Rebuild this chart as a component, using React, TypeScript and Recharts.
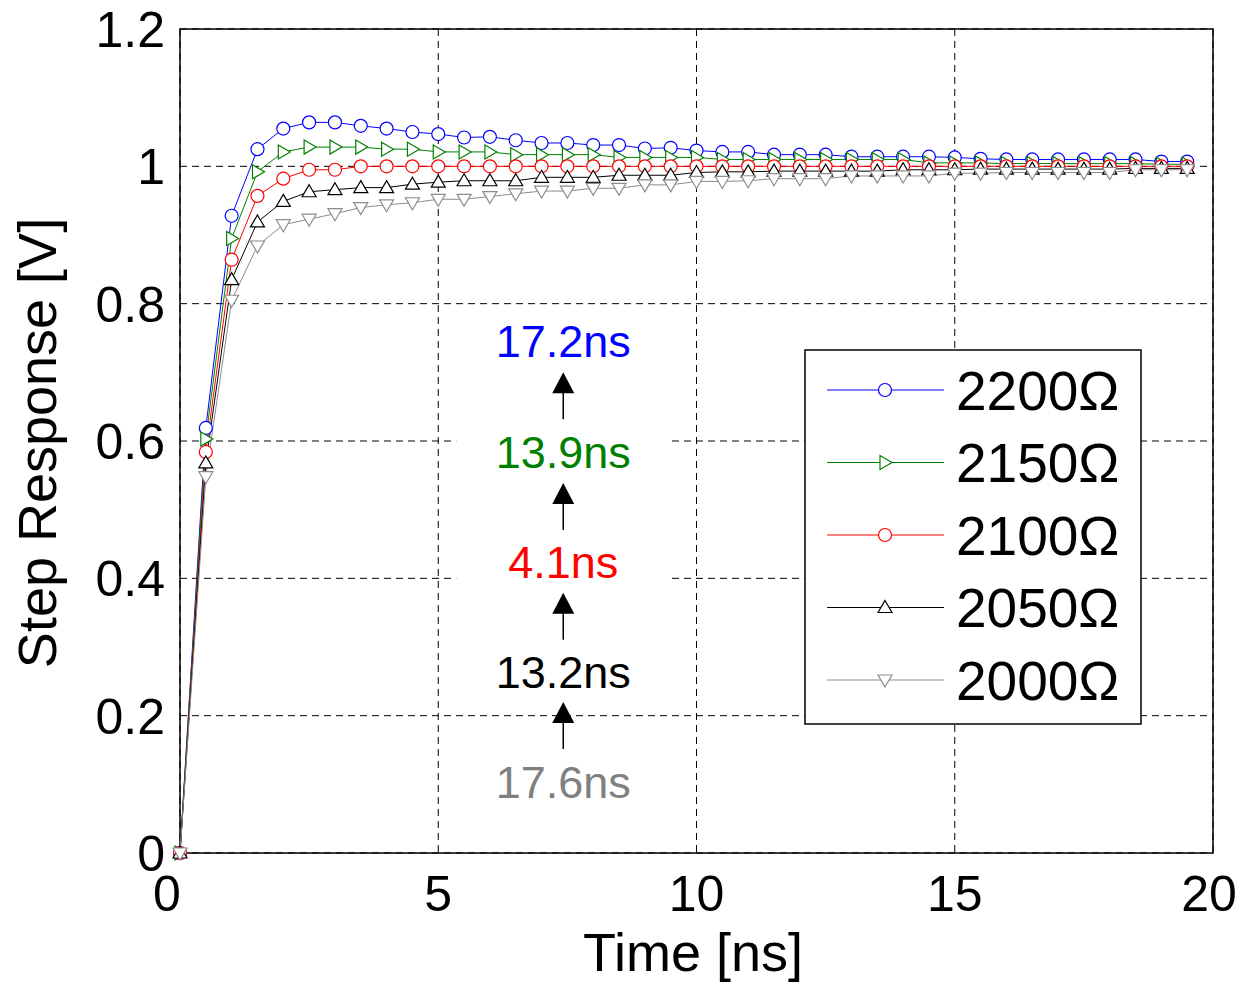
import {
  LineChart,
  Line,
  XAxis,
  YAxis,
  CartesianGrid,
  ReferenceArea,
  ReferenceDot,
  Legend,
} from 'recharts';

const FONT = '"Liberation Sans", Arial, sans-serif';

const timeNs = [
  0, 0.5, 1, 1.5, 2, 2.5, 3, 3.5, 4, 4.5, 5, 5.5, 6, 6.5, 7, 7.5, 8, 8.5, 9, 9.5,
  10, 10.5, 11, 11.5, 12, 12.5, 13, 13.5, 14, 14.5, 15, 15.5, 16, 16.5, 17, 17.5, 18, 18.5, 19, 19.5,
];

const r2200 = [
  0, 0.619, 0.928, 1.025, 1.055, 1.064, 1.064, 1.059, 1.055, 1.05, 1.047, 1.042, 1.043, 1.038, 1.034, 1.034, 1.031, 1.031, 1.026, 1.027,
  1.023, 1.021, 1.021, 1.017, 1.017, 1.017, 1.014, 1.014, 1.014, 1.014, 1.013, 1.011, 1.01, 1.01, 1.01, 1.01, 1.01, 1.01, 1.007, 1.007,
];
const r2150 = [
  0, 0.603, 0.895, 0.992, 1.021, 1.028, 1.028, 1.028, 1.025, 1.025, 1.021, 1.021, 1.021, 1.017, 1.017, 1.017, 1.017, 1.013, 1.013, 1.013,
  1.013, 1.01, 1.01, 1.01, 1.01, 1.01, 1.01, 1.01, 1.01, 1.005, 1.005, 1.005, 1.004, 1.004, 1.004, 1.004, 1.004, 1.004, 1.003, 1.003,
];
const r2100 = [
  0, 0.584, 0.864, 0.957, 0.982, 0.995, 0.995, 1.0, 1.0, 1.0, 1.0, 1.0, 1.0, 1.0, 1.0, 1.0, 1.0, 1.0, 1.0, 1.0,
  1.0, 1.0, 1.0, 1.0, 1.0, 1.0, 1.0, 1.0, 1.0, 1.0, 1.0, 1.0, 1.0, 1.0, 1.0, 1.0, 1.0, 1.0, 1.0, 1.0,
];
const r2050 = [
  0, 0.568, 0.835, 0.919, 0.949, 0.963, 0.966, 0.969, 0.969, 0.974, 0.977, 0.979, 0.979, 0.979, 0.984, 0.984, 0.984, 0.987, 0.987, 0.987,
  0.991, 0.992, 0.992, 0.993, 0.993, 0.993, 0.993, 0.993, 0.995, 0.995, 0.995, 0.996, 0.996, 0.996, 0.996, 0.996, 0.996, 0.997, 0.997, 0.997,
];
const r2000 = [
  0, 0.548, 0.805, 0.884, 0.915, 0.923, 0.931, 0.94, 0.944, 0.947, 0.952, 0.952, 0.956, 0.96, 0.964, 0.964, 0.968, 0.968, 0.973, 0.973,
  0.978, 0.978, 0.979, 0.982, 0.982, 0.982, 0.986, 0.986, 0.986, 0.986, 0.99, 0.99, 0.991, 0.991, 0.991, 0.991, 0.991, 0.995, 0.995, 0.995,
];

const seriesNames = ['2200Ω', '2150Ω', '2100Ω', '2050Ω', '2000Ω'];
const seriesKeys = ['r2200', 'r2150', 'r2100', 'r2050', 'r2000'];
const seriesColors = ['#0000ff', '#008000', '#ff0000', '#000000', '#8c8c8c'];
const seriesMarkers = ['circle', 'right', 'circle', 'up', 'down'];

const xTicks = [0, 5, 10, 15, 20];
const yTicks = [0, 0.2, 0.4, 0.6, 0.8, 1, 1.2];

// rise-time notes in the middle of the plot
const noteLabels = ['17.2ns', '13.9ns', '4.1ns', '13.2ns', '17.6ns'];
const noteColors = ['#0000ff', '#008000', '#ff0000', '#000000', '#808080'];
const noteY = [0.746, 0.584, 0.424, 0.264, 0.104];
const noteX = 7.42;
const arrowTipY = [0.7, 0.539, 0.379, 0.22];

const data = timeNs.map((t, i) => ({
  t,
  r2200: r2200[i],
  r2150: r2150[i],
  r2100: r2100[i],
  r2050: r2050[i],
  r2000: r2000[i],
}));

function marker(kind: string, cx: number, cy: number, color: string, key?: string) {
  if (kind === 'circle') {
    return <circle key={key} cx={cx} cy={cy} r={6.5} fill="#fff" stroke={color} strokeWidth={1.2} />;
  }
  let pts = '';
  if (kind === 'right') pts = `${cx - 5},${cy - 7} ${cx + 7},${cy} ${cx - 5},${cy + 7}`;
  if (kind === 'up') pts = `${cx},${cy - 7} ${cx + 7},${cy + 5} ${cx - 7},${cy + 5}`;
  if (kind === 'down') pts = `${cx},${cy + 7} ${cx + 7},${cy - 5} ${cx - 7},${cy - 5}`;
  return <polygon key={key} points={pts} fill="#fff" stroke={color} strokeWidth={1.2} />;
}

const XTick = (props: any) => {
  const { x, y, payload } = props;
  const shift = payload.value === 0 ? -13 : payload.value === 20 ? -4 : 0;
  return (
    <text x={x + shift} y={y} dy="0.71em" textAnchor="middle" fontSize={50} fontFamily={FONT} fill="#000">
      {payload.value}
    </text>
  );
};

const YTick = (props: any) => {
  const { x, y, payload } = props;
  const v = payload.value;
  const txt = v === 0 ? '0' : v === 1 ? '1' : v.toFixed(1);
  return (
    <text x={x} y={y} dy="0.36em" textAnchor="end" fontSize={50} fontFamily={FONT} fill="#000">
      {txt}
    </text>
  );
};

const LegendBox = () => (
  <svg width={338} height={376} style={{ display: 'block' }}>
    <rect x={1} y={1} width={336} height={374} fill="#fff" stroke="#000" strokeWidth={1.5} />
    {seriesNames.map((name, i) => {
      const cy = 41 + i * 72.5;
      return (
        <g key={name}>
          <line x1={23} x2={140} y1={cy} y2={cy} stroke={seriesColors[i]} strokeWidth={1} />
          {marker(seriesMarkers[i], 81, cy, seriesColors[i])}
          <text x={152} y={cy} dy="0.36em" fontSize={55} fontFamily={FONT} fill="#000">
            {name}
          </text>
        </g>
      );
    })}
  </svg>
);

export default function App() {
  return (
    <div style={{ position: 'absolute', left: 0, top: 0, background: '#fff' }}>
      <LineChart
        width={1247}
        height={985}
        data={data}
        margin={{ top: 29, right: 34, left: 100, bottom: 62 }}
      >
        <CartesianGrid stroke="#000" strokeDasharray="7 5" strokeWidth={1} horizontalValues={yTicks} verticalValues={xTicks} />
        <XAxis
          dataKey="t"
          type="number"
          domain={[0, 20]}
          ticks={xTicks}
          tick={<XTick />}
          tickLine={false}
          axisLine={false}
          tickSize={0}
          tickMargin={22}
          height={70}
          label={{
            content: () => (
              <text x={693} y={971} textAnchor="middle" fontSize={54} fontFamily={FONT} fill="#000">
                Time [ns]
              </text>
            ),
          }}
        />
        <YAxis
          type="number"
          domain={[0, 1.2]}
          ticks={yTicks}
          tick={<YTick />}
          tickLine={false}
          axisLine={false}
          tickSize={0}
          tickMargin={15}
          width={80}
          label={{
            content: () => (
              <text
                x={56}
                y={443}
                transform="rotate(-90 56 443)"
                textAnchor="middle"
                fontSize={54}
                fontFamily={FONT}
                fill="#000"
              >
                Step Response [V]
              </text>
            ),
          }}
        />
        <ReferenceArea x1={0} x2={20} y1={0} y2={1.2} fill="none" stroke="#000" strokeWidth={1.5} strokeOpacity={1} fillOpacity={0} />
        {noteLabels.map((lab, i) => (
          <ReferenceDot
            key={lab}
            x={noteX}
            y={noteY[i]}
            shape={(p: any) => (
              <g>
                <rect x={p.cx - 107} y={p.cy - 25} width={215} height={50} fill="#fff" />
                <text x={p.cx} y={p.cy} dy="0.36em" textAnchor="middle" fontSize={45} fontFamily={FONT} fill={noteColors[i]}>
                  {lab}
                </text>
              </g>
            )}
          />
        ))}
        {arrowTipY.map((ty, i) => (
          <ReferenceDot
            key={`arrow-${i}`}
            x={noteX}
            y={ty}
            shape={(p: any) => (
              <g>
                <line x1={p.cx} x2={p.cx} y1={p.cy + 15} y2={p.cy + 47} stroke="#000" strokeWidth={1.5} />
                <polygon points={`${p.cx},${p.cy} ${p.cx + 11},${p.cy + 21} ${p.cx - 11},${p.cy + 21}`} fill="#000" />
              </g>
            )}
          />
        ))}
        {seriesKeys.map((k, i) => (
          <Line
            key={k}
            dataKey={k}
            name={seriesNames[i]}
            stroke={seriesColors[i]}
            strokeWidth={1}
            isAnimationActive={false}
            dot={(p: any) => marker(seriesMarkers[i], p.cx, p.cy, seriesColors[i], `${k}-${p.index}`)}
            activeDot={false}
          />
        ))}
        <Legend
          layout="vertical"
          align="center"
          verticalAlign="middle"
          content={() => <LegendBox />}
          wrapperStyle={{ left: 804, top: 349, width: 338, height: 376 }}
        />
      </LineChart>
    </div>
  );
}
